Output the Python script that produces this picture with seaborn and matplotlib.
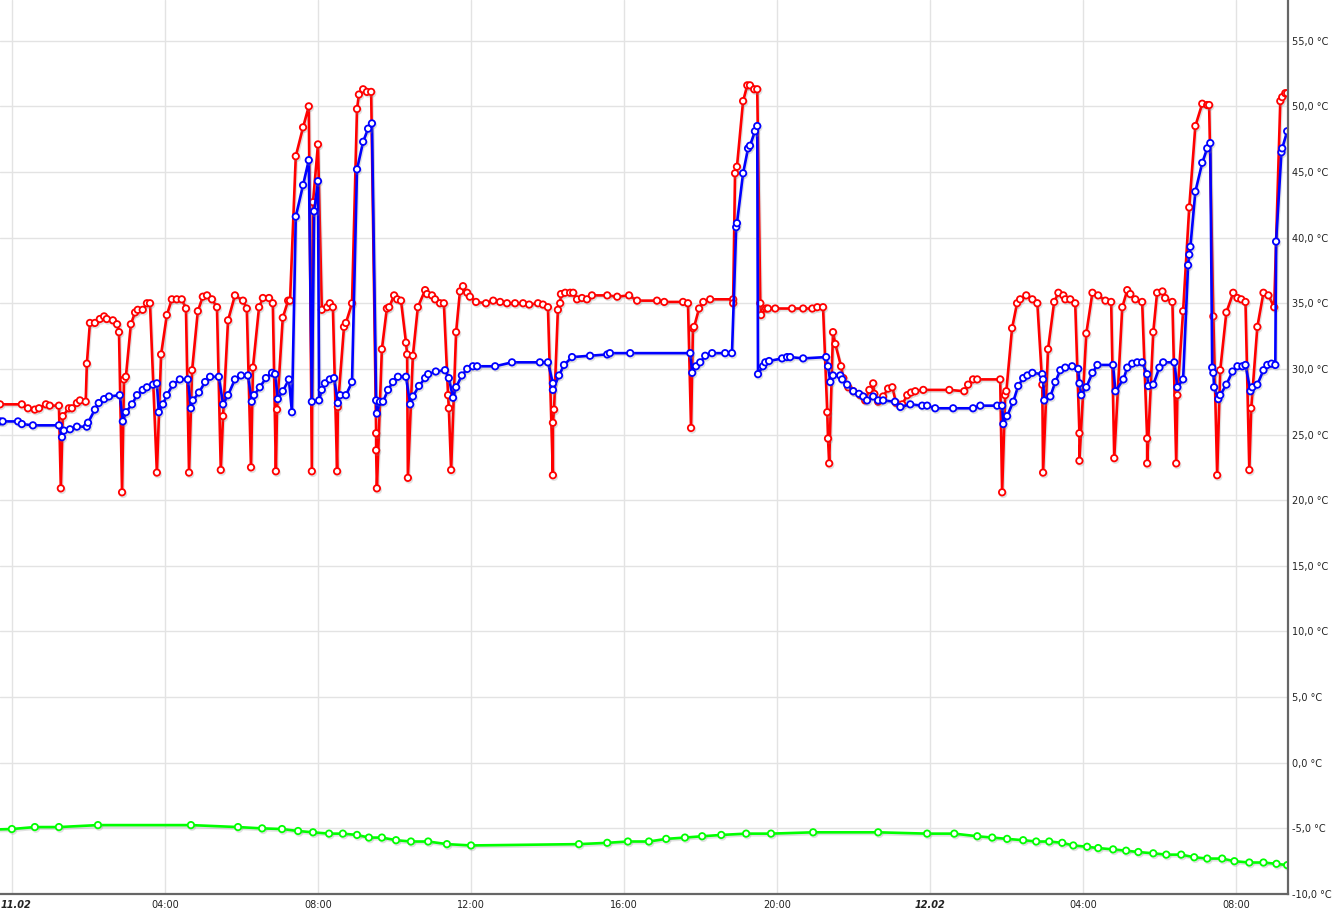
import matplotlib
matplotlib.use("Agg")
import matplotlib.pyplot as plt
import matplotlib.patheffects as pe
import matplotlib.transforms as mtransforms
import seaborn as sns
import pandas as pd

# ---- data (hours since 11.02 00:00, temperature in °C) ----
red_t = [-0.31, 0.26, 0.42, 0.60, 0.71, 0.89, 0.99, 1.23, 1.28, 1.33, 1.49, 1.57, 1.70, 1.78, 1.93, 1.96,
         2.04, 2.17, 2.30, 2.41, 2.48, 2.64, 2.75, 2.80, 2.88, 2.93, 2.98, 3.11, 3.22, 3.29, 3.42, 3.53,
         3.61, 3.79, 3.90, 4.05, 4.18, 4.31, 4.44, 4.55, 4.63, 4.71, 4.86, 4.99, 5.10, 5.23, 5.36, 5.46,
         5.52, 5.65, 5.83, 6.04, 6.14, 6.25, 6.30, 6.46, 6.56, 6.72, 6.82, 6.90, 6.93, 7.08, 7.22, 7.27,
         7.42, 7.61, 7.76, 7.84, 7.87, 8.00, 8.10, 8.24, 8.31, 8.39, 8.50, 8.52, 8.68, 8.73, 8.89, 9.02,
         9.07, 9.18, 9.28, 9.39, 9.52, 9.52, 9.54, 9.67, 9.80, 9.86, 9.99, 10.07, 10.17, 10.30, 10.33,
         10.35, 10.48, 10.61, 10.80, 10.85, 10.98, 11.06, 11.19, 11.29, 11.40, 11.42, 11.48, 11.61, 11.71,
         11.79, 11.90, 11.97, 12.13, 12.39, 12.58, 12.76, 12.94, 13.15, 13.36, 13.52, 13.75, 13.88, 14.01,
         14.14, 14.14, 14.17, 14.27, 14.33, 14.35, 14.46, 14.59, 14.67, 14.77, 14.90, 15.03, 15.16, 15.56,
         15.82, 16.13, 16.34, 16.86, 17.05, 17.54, 17.67, 17.75, 17.80, 17.83, 17.96, 18.07, 18.25, 18.85,
         18.85, 18.90, 18.95, 19.11, 19.22, 19.29, 19.40, 19.48, 19.56, 19.58, 19.71, 19.76, 19.95, 20.39,
         20.68, 20.92, 21.05, 21.20, 21.31, 21.33, 21.36, 21.46, 21.52, 21.67, 21.73, 21.86, 21.99, 22.17,
         22.30, 22.41, 22.51, 22.54, 22.64, 22.77, 22.90, 23.01, 23.11, 23.27, 23.40, 23.50, 23.61, 23.82,
         24.50, 24.89, 24.99, 25.12, 25.23, 25.83, 25.88, 25.96, 25.99, 26.14, 26.27, 26.35, 26.51, 26.67,
         26.80, 26.93, 26.95, 27.08, 27.24, 27.35, 27.48, 27.53, 27.66, 27.79, 27.90, 27.90, 28.08, 28.24,
         28.39, 28.58, 28.73, 28.81, 29.02, 29.15, 29.23, 29.36, 29.54, 29.67, 29.67, 29.83, 29.93, 30.07,
         30.14, 30.33, 30.43, 30.46, 30.61, 30.77, 30.93, 31.11, 31.24, 31.29, 31.40, 31.50, 31.58, 31.74,
         31.92, 32.03, 32.13, 32.24, 32.34, 32.39, 32.55, 32.71, 32.84, 32.99, 33.15, 33.20, 33.28, 33.33]
red_v = [27.3, 27.3, 27.0, 26.9, 27.0, 27.3, 27.2, 27.2, 20.9, 26.4, 27.0, 27.0, 27.4, 27.6, 27.5, 30.4,
         33.5, 33.5, 33.8, 34.0, 33.8, 33.7, 33.4, 32.8, 20.6, 29.2, 29.4, 33.4, 34.3, 34.5, 34.5, 35.0,
         35.0, 22.1, 31.1, 34.1, 35.3, 35.3, 35.3, 34.6, 22.1, 29.9, 34.4, 35.5, 35.6, 35.3, 34.7, 22.3,
         26.4, 33.7, 35.6, 35.2, 34.6, 22.5, 30.1, 34.7, 35.4, 35.4, 35.0, 22.2, 26.9, 33.9, 35.2, 35.2,
         46.2, 48.4, 50.0, 22.2, 42.7, 47.1, 34.5, 34.7, 35.0, 34.7, 22.2, 27.1, 33.2, 33.5, 35.0, 49.8,
         50.9, 51.3, 51.1, 51.1, 25.1, 23.8, 20.9, 31.5, 34.6, 34.7, 35.6, 35.3, 35.2, 32.0, 31.1,
         21.7, 31.0, 34.7, 36.0, 35.7, 35.6, 35.3, 35.0, 35.0, 28.0, 27.0, 22.3, 32.8, 35.9,
         36.3, 35.8, 35.5, 35.1, 35.0, 35.2, 35.1, 35.0, 35.0, 35.0, 34.9, 35.0, 34.9, 34.7,
         21.9, 25.9, 26.9, 34.5, 35.0, 35.7, 35.8, 35.8, 35.8, 35.3, 35.4, 35.3, 35.6, 35.6,
         35.5, 35.6, 35.2, 35.2, 35.1, 35.1, 35.0, 25.5, 33.1, 33.2, 34.6, 35.1, 35.3, 35.3,
         35.0, 44.9, 45.4, 50.4, 51.6, 51.6, 51.3, 51.3, 35.0, 34.1, 34.6, 34.6, 34.6, 34.6,
         34.6, 34.6, 34.7, 34.7, 26.7, 24.7, 22.8, 32.8, 31.9, 30.2, 29.3, 28.6, 28.3, 28.0,
         27.6, 28.4, 28.9, 28.1, 27.5, 27.9, 28.5, 28.6, 27.4, 27.3, 28.0, 28.2, 28.3, 28.4,
         28.4, 28.3, 28.8, 29.2, 29.2, 29.2, 20.6, 28.0, 28.3, 33.1, 35.0, 35.3, 35.6, 35.3,
         35.0, 28.8, 22.1, 31.5, 35.1, 35.8, 35.6, 35.3, 35.3, 35.0, 25.1, 23.0, 32.7, 35.8,
         35.6, 35.2, 35.1, 23.2, 34.7, 36.0, 35.7, 35.3, 35.1, 24.7, 22.8, 32.8, 35.8, 35.9,
         35.4, 35.1, 22.8, 28.0, 34.4, 42.3, 48.5, 50.2, 50.1, 50.1, 34.0, 21.9, 29.9, 34.3,
         35.8, 35.4, 35.3, 35.1, 22.3, 27.0, 33.2, 35.8, 35.6, 34.7, 50.4, 50.7, 51.0, 51.0]

blue_t = [-0.31, -0.24, 0.16, 0.26, 0.55, 1.23, 1.31, 1.36, 1.52, 1.70, 1.96, 1.99, 2.17, 2.27, 2.41, 2.54,
          2.82, 2.90, 2.98, 3.14, 3.27, 3.42, 3.53, 3.69, 3.79, 3.84, 3.95, 4.05, 4.21, 4.39, 4.60, 4.68,
          4.73, 4.89, 5.05, 5.18, 5.41, 5.52, 5.65, 5.83, 5.99, 6.17, 6.27, 6.33, 6.48, 6.64, 6.80, 6.88,
          6.95, 7.08, 7.24, 7.32, 7.42, 7.61, 7.76, 7.84, 7.90, 8.00, 8.03, 8.10, 8.18, 8.31, 8.42, 8.52,
          8.58, 8.73, 8.89, 9.02, 9.18, 9.31, 9.41, 9.52, 9.54, 9.62, 9.70, 9.83, 9.96, 10.09, 10.30, 10.41,
          10.48, 10.64, 10.80, 10.88, 11.08, 11.32, 11.42, 11.53, 11.61, 11.76, 11.90, 12.05, 12.16, 12.63,
          13.07, 13.80, 14.01, 14.14, 14.14, 14.30, 14.43, 14.64, 15.11, 15.56, 15.63, 16.16, 17.73, 17.78,
          17.88, 17.99, 18.12, 18.30, 18.64, 18.82, 18.93, 18.95, 19.11, 19.24, 19.29, 19.42, 19.48, 19.50,
          19.63, 19.69, 19.79, 20.13, 20.26, 20.34, 20.68, 21.28, 21.33, 21.39, 21.46, 21.65, 21.70, 21.83,
          21.99, 22.14, 22.25, 22.35, 22.51, 22.64, 22.77, 23.08, 23.22, 23.48, 23.79, 23.92, 24.13, 24.60,
          25.12, 25.31, 25.75, 25.88, 25.91, 26.01, 26.17, 26.30, 26.43, 26.54, 26.67, 26.93, 26.95, 26.98,
          27.14, 27.27, 27.40, 27.53, 27.71, 27.87, 27.90, 27.95, 28.08, 28.24, 28.37, 28.78, 28.84, 29.05,
          29.15, 29.28, 29.41, 29.54, 29.67, 29.70, 29.83, 29.99, 30.09, 30.38, 30.46, 30.61, 30.74, 30.77,
          30.80, 30.93, 31.11, 31.24, 31.32, 31.37, 31.40, 31.42, 31.53, 31.58, 31.74, 31.90, 32.03, 32.16,
          32.24, 32.37, 32.42, 32.55, 32.71, 32.81, 32.92, 33.02, 33.04, 33.18, 33.20, 33.33]
blue_v = [26.0, 26.0, 26.0, 25.8, 25.7, 25.7, 24.8, 25.3, 25.4, 25.6, 25.6, 25.9, 26.9, 27.4, 27.7, 27.9,
          28.0, 26.0, 26.7, 27.3, 28.0, 28.4, 28.6, 28.8, 28.9, 26.7, 27.3, 28.0, 28.8, 29.2, 29.2, 27.0,
          27.6, 28.2, 29.0, 29.4, 29.4, 27.3, 28.0, 29.2, 29.5, 29.5, 27.5, 28.0, 28.6, 29.3, 29.7, 29.6,
          27.7, 28.3, 29.2, 26.7, 41.6, 44.0, 45.9, 27.5, 42.0, 44.3, 27.6, 28.4, 28.9, 29.2, 29.3, 27.4,
          28.0, 28.0, 29.0, 45.2, 47.3, 48.3, 48.7, 27.6, 26.6, 27.5, 27.5, 28.4, 29.0, 29.4, 29.4, 27.3,
          27.9, 28.7, 29.3, 29.6, 29.8, 29.9, 29.3, 27.8, 28.6, 29.5, 30.0, 30.2, 30.2, 30.2,
          30.5, 30.5, 30.5, 28.9, 28.4, 29.5, 30.3, 30.9, 31.0, 31.1, 31.2, 31.2, 31.2, 29.7,
          30.2, 30.5, 31.0, 31.2, 31.2, 31.2, 40.8, 41.1, 44.9, 46.8, 47.0, 48.1, 48.5, 29.6,
          30.2, 30.5, 30.6, 30.8, 30.9, 30.9, 30.8, 30.9, 30.2, 29.0, 29.5, 29.5, 29.2, 28.8,
          28.3, 28.1, 27.9, 27.6, 27.9, 27.6, 27.6, 27.5, 27.1, 27.3, 27.2, 27.2, 27.0, 27.0,
          27.0, 27.2, 27.2, 27.2, 25.8, 26.4, 27.5, 28.7, 29.3, 29.5, 29.7, 29.6, 29.2, 27.6,
          27.9, 29.0, 29.9, 30.1, 30.2, 30.0, 28.9, 28.0, 28.6, 29.7, 30.3, 30.3, 28.3, 29.2,
          30.1, 30.4, 30.5, 30.5, 29.6, 28.7, 28.8, 30.1, 30.5, 30.5, 28.6, 29.2, 37.9, 38.7,
          39.3, 43.5, 45.7, 46.8, 47.2, 30.1, 29.7, 28.6, 27.7, 28.0, 28.8, 29.8, 30.2, 30.2,
          30.3, 28.3, 28.6, 28.8, 29.9, 30.3, 30.4, 30.3, 39.7, 46.5, 46.8, 48.1]

green_t = [-0.60, 0.00, 0.60, 1.23, 2.25, 4.68, 5.91, 6.54, 7.06, 7.48, 7.87, 8.29, 8.65, 9.02, 9.33, 9.67,
           10.04, 10.43, 10.88, 11.37, 12.00, 14.82, 15.56, 16.10, 16.65, 17.10, 17.59, 18.04, 18.54,
           19.19, 19.84, 20.94, 22.64, 23.92, 24.63, 25.23, 25.62, 26.01, 26.43, 26.77, 27.11, 27.45,
           27.74, 28.10, 28.39, 28.78, 29.12, 29.44, 29.83, 30.17, 30.56, 30.90, 31.24, 31.63, 31.95,
           32.34, 32.71, 33.05, 33.33]
green_v = [-5.1, -5.05, -4.9, -4.9, -4.75, -4.75, -4.9, -5.0, -5.05, -5.2, -5.3, -5.4, -5.4, -5.5, -5.7, -5.7,
           -5.9, -6.0, -6.0, -6.2, -6.3, -6.2, -6.1, -6.0, -6.0, -5.8, -5.7, -5.6, -5.5,
           -5.4, -5.4, -5.3, -5.3, -5.4, -5.4, -5.6, -5.7, -5.8, -5.9, -6.0, -6.0, -6.1,
           -6.3, -6.4, -6.5, -6.6, -6.7, -6.8, -6.9, -7.0, -7.0, -7.2, -7.3, -7.3, -7.5,
           -7.6, -7.6, -7.7, -7.8]

x_ticks = [0, 4, 8, 12, 16, 20, 24, 28, 32]
x_labels = ["11.02", "04:00", "08:00", "12:00", "16:00", "20:00", "12.02", "04:00", "08:00"]
y_ticks = list(range(-10, 60, 5))
y_labels = [f"{v:.1f}".replace(".", ",") + " °C" for v in y_ticks]

# ---- plotting ----
sns.set_theme(style="white")
plt.rcParams['font.family'] = ['DejaVu Sans']

fig = plt.figure(figsize=(13.33, 9.16), dpi=100)
ax = fig.add_axes([0.0, 0.024, 0.9662, 0.976])

series = [(red_t, red_v, "#ff0000"), (blue_t, blue_v, "#0000ff"), (green_t, green_v, "#00ff00")]
shadow = [pe.SimpleLineShadow(offset=(0.8, -1.2), shadow_color="#888888", alpha=0.25), pe.Normal()]
for t, v, c in series:
    df = pd.DataFrame({"t": t, "v": v})
    sns.lineplot(data=df, x="t", y="v", ax=ax, sort=False, estimator=None, color=c,
                 linewidth=1.9, marker="o", markersize=4.6, markerfacecolor="white",
                 markeredgecolor=c, markeredgewidth=1.3, path_effects=shadow, clip_on=True)

ax.set_xlim(-0.31, 33.35)
ax.set_ylim(-10.0, 58.1)
ax.set_xlabel("")
ax.set_ylabel("")

ax.set_xticks(x_ticks)
ax.set_xticklabels(x_labels)
ax.set_yticks(y_ticks)
ax.set_yticklabels(y_labels)
ax.yaxis.tick_right()
ax.tick_params(axis="both", length=0, labelsize=7, colors="#222222")
ax.tick_params(axis="y", pad=3)
ax.tick_params(axis="x", pad=4)
for i, lbl in enumerate(ax.get_xticklabels()):
    if "." in lbl.get_text():
        lbl.set_fontweight("bold")
        lbl.set_fontstyle("italic")
    if i == 0:
        lbl.set_horizontalalignment("left")
        lbl.set_transform(lbl.get_transform() +
                          mtransforms.ScaledTranslation(-11 / 100, 0, fig.dpi_scale_trans))

ax.grid(True, color="#e3e3e3", linewidth=1.0)
ax.set_axisbelow(True)
for s in ["left", "top"]:
    ax.spines[s].set_visible(False)
for s in ["right", "bottom"]:
    ax.spines[s].set_visible(True)
    ax.spines[s].set_color("#666666")
    ax.spines[s].set_linewidth(1.6)

fig.savefig("out.png", dpi=100)
